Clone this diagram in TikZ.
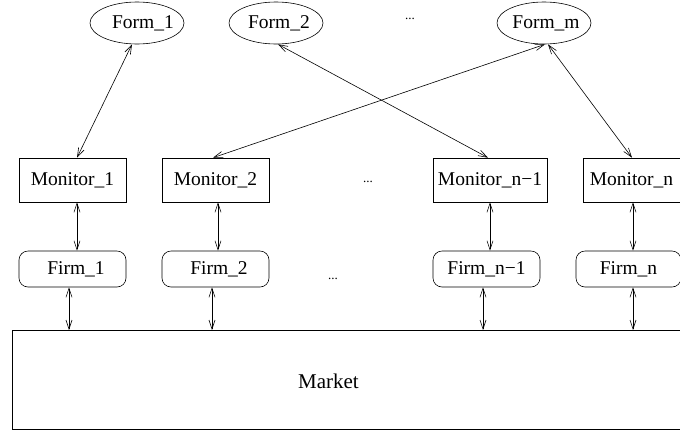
\documentclass[tikz,border=0pt]{standalone}
\usepackage{fontspec}
\setmainfont{Liberation Serif}
\usetikzlibrary{arrows.meta,shapes.geometric}
\begin{document}
\begin{tikzpicture}[x=1pt,y=-1pt,
  every node/.style={font=\fontsize{19.5}{23}\selectfont, inner sep=0pt},
  form/.style={draw, ellipse, minimum width=94pt, minimum height=42pt, line width=0.6pt},
  monitor/.style={draw, rectangle, minimum height=44pt, line width=0.6pt},
  firm/.style={draw, rectangle, rounded corners=9pt, minimum height=36pt, line width=0.6pt},
  market/.style={draw, rectangle, line width=0.6pt},
  dots/.style={font=\fontsize{13}{15}\selectfont},
  link/.style={line width=0.6pt, {Straight Barb[length=9pt,width=6pt]}-{Straight Barb[length=9pt,width=6pt]}}]
\useasboundingbox (0,0) rectangle (680,432);
\clip (0,0) rectangle (680,432);

% forms (labels sit a little right of the ellipse centre)
\node[form, label={[xshift=6pt]center:Form\_1}] (fo1) at (137,23) {};
\node[form, label={[xshift=3pt]center:Form\_2}] (fo2) at (276,23) {};
\node[form, label={[xshift=2pt]center:Form\_m}] (fom) at (544,23) {};
\node[dots] (d1) at (410,19) {...};

% monitors
\node[monitor, minimum width=107pt] (m1) at (72.5,180) {Monitor\_1};
\node[monitor, minimum width=107pt] (m2) at (215.5,180) {Monitor\_2};
\node[monitor, minimum width=114pt] (mn1) at (490,180) {Monitor\_n−1};
\node[monitor, minimum width=107pt] (mn) at (636.5,180) {\hspace*{-10pt}Monitor\_n};
\node[dots] (d2) at (368,182) {...};

% firms
\node[firm, minimum width=107pt] (f1) at (72.5,269) {\hspace*{7pt}Firm\_1};
\node[firm, minimum width=107pt] (f2) at (215.5,269) {\hspace*{7pt}Firm\_2};
\node[firm, minimum width=107pt] (fn1) at (486.5,269) {Firm\_n−1};
\node[firm, minimum width=105pt] (fn) at (628.5,269) {Firm\_n};
\node[dots] (d3) at (333,279) {...};

% market
\node[market, minimum width=700pt, minimum height=99pt, anchor=north west] (mk) at (12,330) {};
\node[font=\fontsize{21}{25}\selectfont] (mkt) at (328.5,381) {Market};

% columns of the firm -- market links
\coordinate (c1) at (69,0);
\coordinate (c2) at (212,0);
\coordinate (c3) at (483,0);
\coordinate (c4) at (633,0);

% form -- monitor links
\draw[link] ([xshift=-5pt]fo1.south) -- ([xshift=4.5pt]m1.north);
\draw[link] ([xshift=2pt]fo2.south) -- ([xshift=-2pt]mn1.north);
\draw[link] ([xshift=1pt]fom.south) -- ([xshift=-2.5pt]m2.north);
\draw[link] ([xshift=4pt]fom.south) -- ([xshift=-4.5pt]mn.north);

% monitor -- firm links
\draw[link] ([xshift=4.5pt]m1.south) -- ([xshift=4.5pt]f1.north);
\draw[link] ([xshift=2.5pt]m2.south) -- ([xshift=2.5pt]f2.north);
\draw[link] (mn1.south) -- ([xshift=3.5pt]fn1.north);
\draw[link] ([xshift=-3.5pt]mn.south) -- ([xshift=4.5pt]fn.north);

% firm -- market links
\draw[link] (f1.south -| c1) -- (mk.north -| c1);
\draw[link] (f2.south -| c2) -- (mk.north -| c2);
\draw[link] (fn1.south -| c3) -- (mk.north -| c3);
\draw[link] (fn.south -| c4) -- (mk.north -| c4);
\end{tikzpicture}
\end{document}
